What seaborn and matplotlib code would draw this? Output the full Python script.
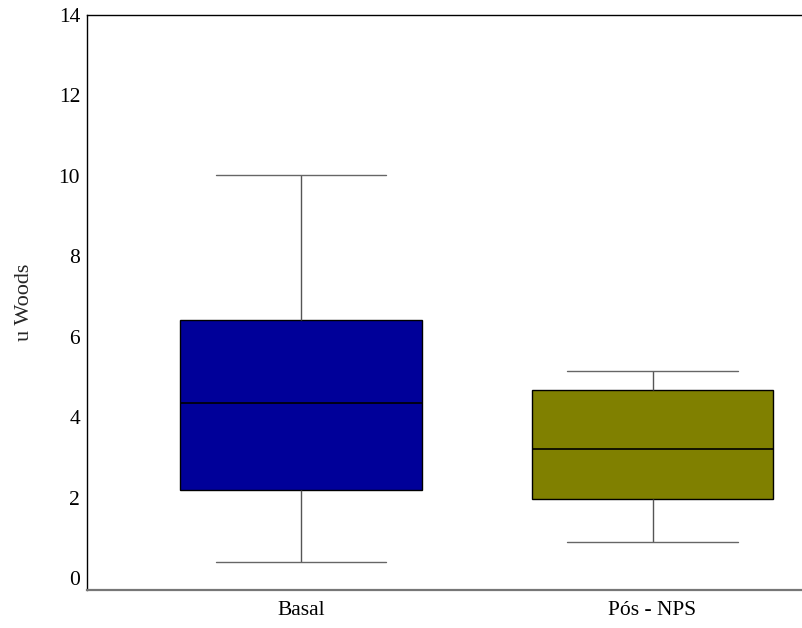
import matplotlib
matplotlib.use("Agg")
import matplotlib.pyplot as plt
import seaborn as sns
import pandas as pd
import numpy as np

# Values: min, Q1, median, Q3, max for each group
categories = ["Basal", "Pós - NPS"]
basal_values = [0.40, 2.19, 4.35, 6.41, 10.02]
pos_nps_values = [0.90, 1.97, 3.21, 4.68, 5.15]
colors = ["#000099", "#808000"]
y_ticks = [0, 2, 4, 6, 8, 10, 12, 14]
y_label = "u Woods"

df = pd.DataFrame({
    "grupo": [categories[0]] * len(basal_values) + [categories[1]] * len(pos_nps_values),
    "valor": basal_values + pos_nps_values,
})

sns.set_style("white")
plt.rcParams["font.family"] = ["Liberation Serif", "DejaVu Serif"]

fig = plt.figure(figsize=(8.03, 6.28), dpi=100)
ax = fig.add_axes([87 / 803, 38 / 628, 1 - 87 / 803, (590 - 15) / 628])

box_width = 0.688
sns.boxplot(
    data=df, x="grupo", y="valor", hue="grupo", order=categories,
    palette=colors, legend=False, ax=ax, width=box_width, whis=(0, 100),
    linewidth=1.0, showfliers=False, saturation=1,
    boxprops=dict(edgecolor="black"),
    medianprops=dict(color="black", linewidth=1.2),
    whiskerprops=dict(color="#555555"),
    capprops=dict(color="#666666"),
)

# widen the caps to ~70% of the box width
cap_half = 0.242
for line in ax.lines:
    x = np.asarray(line.get_xdata(), dtype=float)
    y = np.asarray(line.get_ydata(), dtype=float)
    if len(x) == 2 and y[0] == y[1] and abs((x[1] - x[0]) - box_width) > 1e-3:
        c = (x[0] + x[1]) / 2
        line.set_xdata([c - cap_half, c + cap_half])

ax.set_xlim(-0.609, 1.428)
ax.set_ylim(-0.30, 14)
ax.set_yticks(y_ticks)
ax.set_yticklabels([str(t) for t in y_ticks])
ax.tick_params(axis="both", length=0, labelsize=15.5, colors="black")
ax.tick_params(axis="y", pad=5)
ax.tick_params(axis="x", pad=8)
ax.set_xlabel("")
ax.set_ylabel(y_label, fontsize=16, labelpad=18)

for s in ["left", "top"]:
    ax.spines[s].set_color("black")
    ax.spines[s].set_linewidth(1.0)
ax.spines["bottom"].set_color("#777777")
ax.spines["bottom"].set_linewidth(1.6)
ax.spines["right"].set_visible(False)

fig.savefig("out.png", dpi=100)
